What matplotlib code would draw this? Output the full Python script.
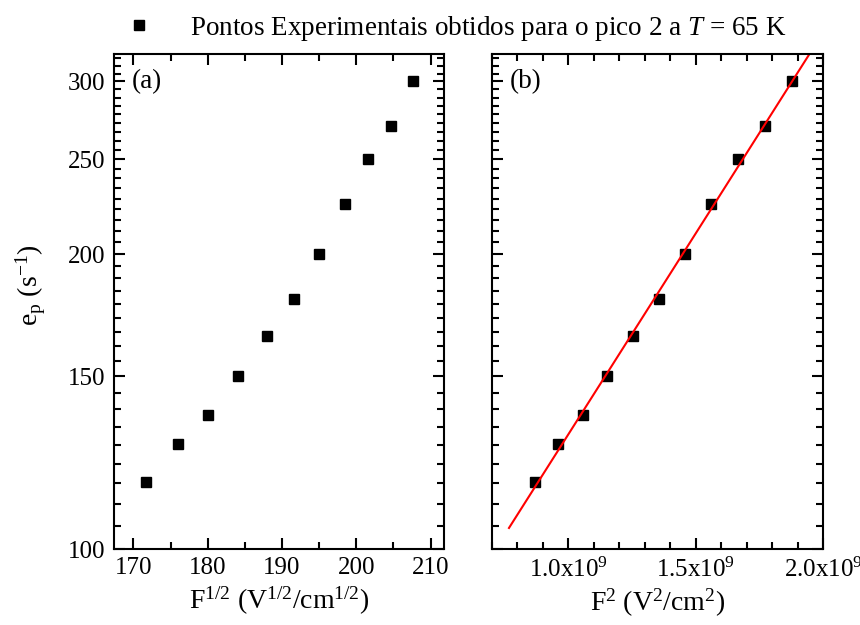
import numpy as np
import matplotlib
matplotlib.use("Agg")
import matplotlib.pyplot as plt
from matplotlib.ticker import FixedLocator, MultipleLocator, FuncFormatter, NullFormatter

# -------------------------
# Data
# -------------------------
sqrt_field = [171.7, 176.0, 180.0, 184.1, 188.0, 191.6, 195.0, 198.5, 201.6, 204.6, 207.6]
field_sq = [0.870e9, 0.961e9, 1.057e9, 1.153e9, 1.254e9, 1.355e9, 1.458e9, 1.562e9, 1.666e9, 1.771e9, 1.878e9]
emission = [117, 128, 137, 150, 165, 180, 200, 225, 250, 270, 300]
fit_range = [0.767e9, 2.0e9]

y_ticks = [100, 150, 200, 250, 300]
legend_text = r'Pontos Experimentais obtidos para o pico 2 a $\mathit{T}$ = 65 K'

# -------------------------
# Style
# -------------------------
plt.rcParams['font.family'] = 'Liberation Serif'
plt.rcParams['mathtext.fontset'] = 'custom'
plt.rcParams['mathtext.rm'] = 'Liberation Serif'
plt.rcParams['mathtext.it'] = 'Liberation Serif:italic'
plt.rcParams['axes.linewidth'] = 1.5

fig = plt.figure(figsize=(8.6, 6.25), dpi=100)
ax1 = fig.add_axes([0.1326, 0.1216, 0.3837, 0.792])
ax2 = fig.add_axes([0.572, 0.1216, 0.385, 0.792])

# minor ticks on log axis: 8 per interval, linear in value
minor_y = [100 + 50 / 9 * k for k in range(0, 40) if k % 9 != 0]

for ax in (ax1, ax2):
    ax.set_yscale('log')
    ax.set_ylim(100, 320)
    ax.yaxis.set_major_locator(FixedLocator(y_ticks))
    ax.yaxis.set_minor_locator(FixedLocator(minor_y))
    ax.yaxis.set_minor_formatter(NullFormatter())
    ax.tick_params(which='both', direction='in', top=True, right=True,
                   width=1.5, labelsize=18, pad=6)
    ax.tick_params(which='major', length=8)
    ax.tick_params(which='minor', length=5)

ax1.yaxis.set_major_formatter(FuncFormatter(lambda v, p: '%d' % v))
ax2.tick_params(axis='y', which='both', labelleft=False)

# -------------------------
# (a) e_p vs F^1/2
# -------------------------
pts, = ax1.plot(sqrt_field, emission, 's', color='black', ms=7.5, label=legend_text)
ax1.set_xlim(167.4, 211.8)
ax1.xaxis.set_major_locator(MultipleLocator(10))
ax1.xaxis.set_minor_locator(MultipleLocator(5))
ax1.set_xlabel(r'F$^{\mathregular{1/2}}$ (V$^{\mathregular{1/2}}$/cm$^{\mathregular{1/2}}$)', fontsize=20)
ax1.set_ylabel(r'e$_{\mathregular{p}}$ (s$^{\mathregular{-1}}$)', fontsize=20)
ax1.yaxis.set_label_coords(-0.2, 0.533)
ax1.text(0.055, 0.945, '(a)', transform=ax1.transAxes, fontsize=19.5, va='center')

# -------------------------
# (b) e_p vs F^2 with linear fit of ln(e_p)
# -------------------------
ax2.plot(field_sq, emission, 's', color='black', ms=7.5)
b, a = np.polyfit(field_sq, np.log(emission), 1)
xf = np.linspace(fit_range[0], fit_range[1], 50)
ax2.plot(xf, np.exp(a + b * xf), color='red', lw=1.5)
ax2.set_xlim(0.7e9, 2.0e9)
ax2.xaxis.set_major_locator(MultipleLocator(0.5e9))
ax2.xaxis.set_minor_locator(MultipleLocator(0.1e9))
ax2.xaxis.set_major_formatter(FuncFormatter(
    lambda v, p: r'%.1fx10$^{\mathregular{9}}$' % (v / 1e9)))
ax2.set_xlabel(r'F$^{\mathregular{2}}$ (V$^{\mathregular{2}}$/cm$^{\mathregular{2}}$)', fontsize=20)
ax2.text(0.055, 0.945, '(b)', transform=ax2.transAxes, fontsize=19.5, va='center')

fig.legend(handles=[pts], loc='center', bbox_to_anchor=(0.53, 0.955),
           frameon=False, fontsize=19.5, handlelength=1.0, handletextpad=1.4,
           numpoints=1)

fig.savefig('out.png', dpi=100)
